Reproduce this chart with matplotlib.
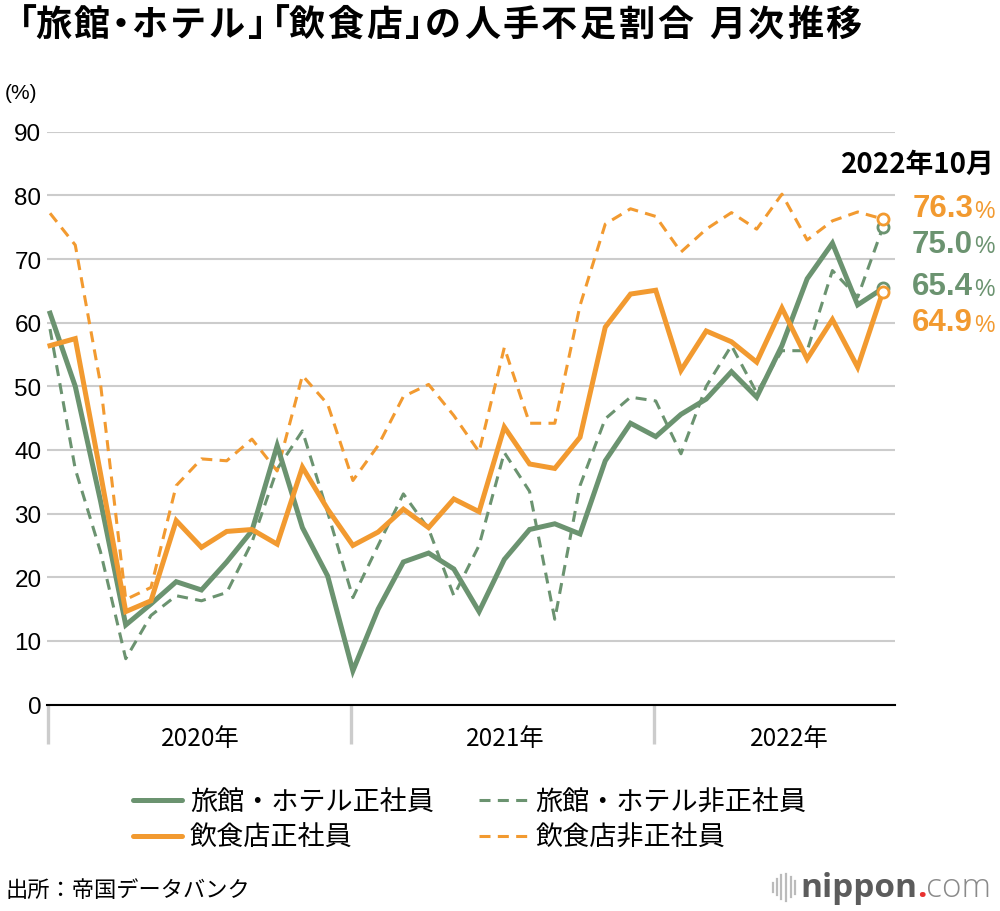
import numpy as np
import matplotlib.pyplot as plt
from matplotlib.lines import Line2D

plt.rcParams['font.family'] = ['Noto Sans CJK JP', 'DejaVu Sans']

# ---- data (monthly, 2020-01 .. 2022-10) ----
months = np.arange(34)
years = ['2020年', '2021年', '2022年']

hotel_regular = [61.5, 50.0, 32.0, 12.5, 15.8, 19.3, 18.0, 22.4, 27.3, 40.7, 27.8, 20.2,
                 5.3, 15.0, 22.4, 23.8, 21.3, 14.6, 22.8, 27.5, 28.4, 26.8, 38.3, 44.2,
                 42.1, 45.6, 48.0, 52.3, 48.3, 56.4, 66.9, 72.5, 62.8, 65.4]
hotel_nonregular = [59.0, 37.0, 24.0, 7.2, 14.0, 17.1, 16.3, 17.6, 25.5, 37.0, 43.0, 30.2,
                    16.8, 25.0, 33.1, 27.6, 17.1, 25.0, 39.6, 33.5, 13.4, 34.4, 44.9, 48.3,
                    47.7, 39.4, 50.0, 56.4, 49.0, 55.6, 55.6, 68.2, 64.0, 75.0]
food_regular = [56.4, 57.5, 36.3, 14.6, 16.3, 28.9, 24.7, 27.2, 27.5, 25.2, 37.3, 30.7,
                25.0, 27.1, 30.7, 27.8, 32.3, 30.3, 43.6, 37.8, 37.1, 42.0, 59.3, 64.5,
                65.1, 52.5, 58.7, 57.0, 53.8, 62.3, 54.3, 60.5, 53.0, 64.9]
food_nonregular = [77.2, 72.2, 50.4, 16.5, 18.4, 34.4, 38.6, 38.3, 41.7, 36.7, 51.7, 47.2,
                   35.2, 40.7, 48.4, 50.3, 45.4, 39.7, 56.1, 44.2, 44.2, 62.7, 75.5, 77.9,
                   76.7, 71.1, 74.7, 77.3, 74.7, 80.2, 73.0, 76.0, 77.4, 76.3]

GREEN = '#6b9370'
ORANGE = '#f29a30'
W, H = 1000, 912

fig = plt.figure(figsize=(10, 9.12), dpi=100)
ax = fig.add_axes([0.047, 0.2264, 0.848, 0.628])

dash = (0, (3.6, 2.4))
l_gd, = ax.plot(months, hotel_nonregular, color=GREEN, lw=2.2, ls=dash,
                marker='o', markevery=[-1], ms=8, mfc='white', mew=2, clip_on=False)
l_od, = ax.plot(months, food_nonregular, color=ORANGE, lw=2.2, ls=dash,
                marker='o', markevery=[-1], ms=8, mfc='white', mew=2, clip_on=False)
l_gs, = ax.plot(months, hotel_regular, color=GREEN, lw=3.6, solid_joinstyle='miter',
                marker='o', markevery=[-1], ms=8, mfc='white', mew=2, clip_on=False)
l_os, = ax.plot(months, food_regular, color=ORANGE, lw=3.6, solid_joinstyle='miter',
                marker='o', markevery=[-1], ms=8, mfc='white', mew=2, clip_on=False)

ax.set_xlim(-0.12, 33.48)
ax.set_ylim(0, 90)
ax.set_yticks(range(0, 91, 10))
ax.yaxis.grid(True, color='#cccccc', lw=1.5)
ax.set_axisbelow(True)
for s in ['top', 'right', 'left']:
    ax.spines[s].set_visible(False)
ax.spines['bottom'].set_color('black')
ax.spines['bottom'].set_linewidth(1.5)
ax.tick_params(axis='y', length=0, pad=4)
for lab in ax.get_yticklabels():
    lab.set_family(['Liberation Sans'])
    lab.set_fontsize(17.5)

# year separators and labels
ax.set_xticks([-0.07, 11.93, 23.93])
ax.set_xticklabels([])
ax.tick_params(axis='x', which='major', length=28, width=2.4, color='#cccccc')
ax.set_xticks([5.94, 18.03, 29.3], minor=True)
ax.set_xticklabels(years, minor=True, fontsize=17.5)
ax.tick_params(axis='x', which='minor', length=0, pad=15)

# title, set char by char so the brackets and dot take half width
title = '「旅館・ホテル」「飲食店」の人手不足割合 月次推移'
tsize = 26
em = tsize / 72 * 100
narrow = {'「': (-0.37, 0.52), '」': (0.0, 0.48), '・': (-0.28, 0.45), ' ': (0.0, 0.30)}
xpos = 0.37 * em + 0.5
for ch in title:
    off, adv = narrow.get(ch, (0.0, 1.0))
    fig.text((xpos + off * em) / W, 0.972, ch, fontsize=tsize, fontweight='bold',
             va='center', ha='left')
    xpos += adv * em + 2.6

fig.text(0.005, 0.898, '(%)', fontsize=15, family=['Liberation Sans'], va='center')

# latest values
fig.text(0.995, 0.819, '2022年10月', fontsize=20, fontweight='bold', ha='right', va='center')
last = [(food_nonregular[-1], ORANGE, 0.7705), (hotel_nonregular[-1], GREEN, 0.7314),
        (hotel_regular[-1], GREEN, 0.685), (food_regular[-1], ORANGE, 0.6455)]
for val, col, yy in last:
    fig.text(0.973, yy, f'{val:.1f}', color=col, fontsize=22.5, fontweight='bold',
             family=['Liberation Sans'], ha='right', va='center')
    fig.text(0.974, yy - 0.002, '%', color=col, fontsize=16.5,
             family=['Liberation Sans'], ha='left', va='center')

# legend
leg = fig.legend([l_gs, l_os, l_gd, l_od],
                 ['旅館・ホテル正社員', '飲食店正社員', '旅館・ホテル非正社員', '飲食店非正社員'],
                 ncol=2, frameon=False, loc='upper left', bbox_to_anchor=(0.133, 0.134),
                 fontsize=19.5, handlelength=1.8, handletextpad=0.3, columnspacing=1.65,
                 labelspacing=0.31, borderpad=0, borderaxespad=0)
for h in leg.legend_handles:
    h.set_marker('')
    h.set_solid_capstyle('round')

# footer
fig.text(0.005, 0.024, '出所：帝国データバンク', fontsize=16, va='center')
r = fig.canvas.get_renderer()
lx = 800
for txt, col, wt in [('nippon', '#5c5c5c', 'bold'), ('.', '#e8312f', 'bold'),
                     ('com', '#8a8a8a', 'light')]:
    t = fig.text(lx / W, 0.026, txt, fontsize=24, fontweight=wt, family=['Open Sans'],
                 color=col, va='center', ha='left')
    lx += t.get_window_extent(r).width
bars_x = [0.773, 0.777, 0.781, 0.786, 0.791, 0.795]
bars_h = [0.010, 0.018, 0.026, 0.030, 0.022, 0.014]
for bx, bh in zip(bars_x, bars_h):
    fig.add_artist(Line2D([bx, bx], [0.026 - bh / 2, 0.026 + bh / 2], color='#bbbbbb',
                          lw=1.6, transform=fig.transFigure))

fig.savefig('out.png', dpi=100)
